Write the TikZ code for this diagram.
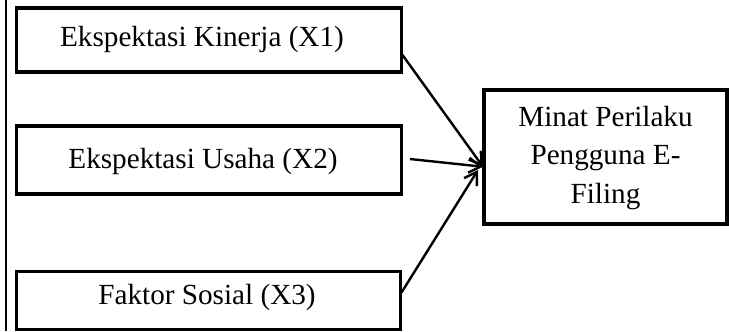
\documentclass[tikz,border=0pt]{standalone}
\usepackage{fontspec}
\setmainfont{Liberation Serif}
\usetikzlibrary{arrows.meta,calc}
\tikzset{
  box/.style={draw=black, line width=3.6bp, inner sep=0pt, outer sep=0pt},
  txt/.style={font=\fontsize{29.3}{39}\selectfont, inner sep=0pt, align=center},
  conn/.style={draw=black, line width=2.4bp, -{Straight Barb[length=12bp, width=15bp, line width=2.4bp]}},
}
\begin{document}
\begin{tikzpicture}[x=1bp, y=-1bp]
\useasboundingbox (0,0) rectangle (729,331);
\fill[white] (0,0) rectangle (729,331);
\coordinate (ftop) at (6,0);
\coordinate (fbot) at (6,331);
\draw[line width=2bp] (ftop) -- (fbot);

\node[box, minimum width=385bp, minimum height=64bp] (b1) at (209,40) {};
\node[txt] (t1) at (202,39) {Ekspektasi Kinerja (X1)};

\node[box, minimum width=385bp, minimum height=68bp] (b2) at (209,160) {};
\node[txt] (t2) at (203,161) {Ekspektasi Usaha (X2)};

\node[box, minimum width=384bp, minimum height=58bp] (b3) at (208.5,300.5) {};
\node[txt] (t3) at (207,297) {Faktor Sosial (X3)};

\node[box, line width=4bp, minimum width=243bp, minimum height=134.5bp] (r) at (605.5,156.75) {};
\node[txt] (tr) at (605.5,158) {Minat Perilaku\\Pengguna E-\\Filing};

\coordinate (a1s) at ($(b1.east)+(1,15)$);
\coordinate (a2s) at (410,159);
\coordinate (a3s) at ($(b3.east)+(1,-8)$);
\coordinate (tip12) at ($(r.west)+(-1,10)$);
\coordinate (tip3) at (478,170);

\draw[conn] (a1s) -- (tip12);
\draw[conn] (a2s) -- (tip12);
\draw[conn] (a3s) -- (tip3);
\end{tikzpicture}
\end{document}
